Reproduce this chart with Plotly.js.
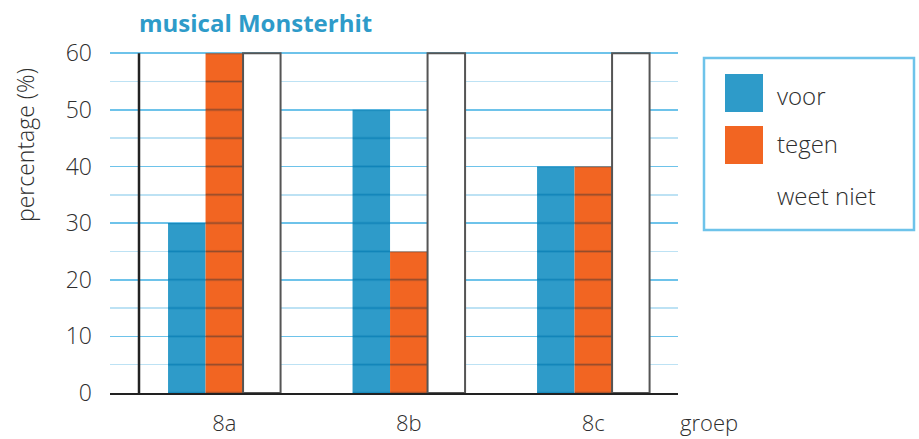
<!DOCTYPE html>
<html>
<head>
<meta charset="utf-8">
<script src="https://cdn.plot.ly/plotly-3.0.1.min.js"></script>
<style>
html,body{margin:0;padding:0;background:#fff;}
#chart{width:919px;height:439px;}
</style>
</head>
<body>
<div id="chart"></div>
<script>
// ---- data ----
const groups = ['8a', '8b', '8c'];
const seriesNames = ['voor', 'tegen', 'weet niet'];
const voor = [30, 50, 40];
const tegen = [60, 25, 40];
const weetNiet = [60, 60, 60];
const yTicks = [0, 10, 20, 30, 40, 50, 60];

// ---- styles ----
const BLUE = '#2e9bc9';
const ORANGE = '#f26522';
const GRID = '#6ec3ea';
const GRID_MINOR = '#bde2f4';
const TEXT = '#2e2e2e';
const FONT = '"Open Sans", Lato, sans-serif';

const W = 919, H = 439;
const L = 110, R = 678, T = 39, B = 393;
const px = x => (x - L) / (R - L);
const py = y => (B - y) / (B - T);

const XR = [-0.6195, 2.459];
const YR = [0, 62.5];
const K = (B - T) / (YR[1] - YR[0]); // px per unit
const BW = 0.2033; // bar width in category units

const seriesValues = [voor, tegen, weetNiet];
const fills = [BLUE, ORANGE, '#ffffff'];
const lines = [{width: 0}, {width: 0}, {color: '#555555', width: 2}];
const offsets = [-1.5 * BW, -0.5 * BW, 0.5 * BW];
// grid lines seen through the coloured bars (darker), none through the white bars
const patterns = [
  {shape: '-', size: 5 * K, solidity: 1.7 / (5 * K), fgcolor: '#0f83b8', bgcolor: BLUE, fgopacity: 1},
  {shape: '-', size: 5 * K, solidity: 1.7 / (5 * K), fgcolor: '#8e4a2c', bgcolor: ORANGE, fgopacity: 1},
  {shape: ''}
];

const traces = seriesValues.map((vals, i) => ({
  type: 'bar',
  name: seriesNames[i],
  x: groups,
  y: vals,
  width: BW, offset: offsets[i],
  marker: {color: fills[i], line: lines[i], pattern: patterns[i]},
  showlegend: false,
  hoverinfo: 'skip'
}));

// custom legend
const legShapes = [{
  type: 'rect', xref: 'paper', yref: 'paper',
  x0: px(704), x1: px(914), y0: py(58), y1: py(230),
  line: {color: GRID, width: 2.5}, fillcolor: 'rgba(0,0,0,0)'
}];
const legAnn = [];
const swTop = [74, 126, 178];
const txtY = [95, 143, 195];
seriesNames.forEach((n, i) => {
  legShapes.push({
    type: 'rect', xref: 'paper', yref: 'paper',
    x0: px(725), x1: px(763), y0: py(swTop[i]), y1: py(swTop[i] + 38),
    line: {width: 0}, fillcolor: fills[i]
  });
  legAnn.push({
    xref: 'paper', yref: 'paper', x: px(775), y: py(txtY[i]),
    xanchor: 'left', yanchor: 'middle', showarrow: false,
    text: n, font: {family: FONT, size: 24, color: TEXT, weight: 300}
  });
});

const layout = {
  width: W, height: H,
  margin: {l: L, r: W - R, t: T, b: H - B, pad: 0},
  paper_bgcolor: '#ffffff', plot_bgcolor: '#ffffff',
  barmode: 'overlay',
  title: {
    text: 'musical Monsterhit', xref: 'container', yref: 'container',
    x: 139 / W, xanchor: 'left', y: 1 - 24 / H, yanchor: 'middle',
    font: {family: FONT, size: 24, color: BLUE, weight: 700}
  },
  xaxis: {
    type: 'category', range: XR, categoryarray: groups,
    showline: true, linecolor: '#222222', linewidth: 2,
    showgrid: false, zeroline: false, ticks: '',
    ticklabelstandoff: 10,
    tickfont: {family: FONT, size: 22, color: TEXT, weight: 300}
  },
  yaxis: {
    range: YR, tickvals: yTicks, ticktext: yTicks.map(String),
    showline: false, zeroline: false, ticks: '',
    showgrid: true, gridcolor: GRID, gridwidth: 1.6,
    minor: {tickvals: [5, 15, 25, 35, 45, 55], showgrid: true, gridcolor: GRID_MINOR, gridwidth: 1.6},
    ticklabelstandoff: 17,
    tickfont: {family: FONT, size: 23, color: TEXT, weight: 300}
  },
  shapes: [{
    type: 'line', xref: 'paper', yref: 'y',
    x0: px(139), x1: px(139), y0: 0, y1: 60,
    line: {color: '#222222', width: 2.5}, layer: 'above'
  }].concat(legShapes),
  annotations: [{
    xref: 'paper', yref: 'paper', x: (25 - L) / (R - L), y: py(145),
    xanchor: 'center', yanchor: 'middle', textangle: -90, showarrow: false,
    text: 'percentage (%)', font: {family: FONT, size: 23, color: TEXT, weight: 300}
  }, {
    xref: 'paper', yref: 'paper', x: px(678), y: py(422),
    xanchor: 'left', yanchor: 'middle', showarrow: false,
    text: 'groep', font: {family: FONT, size: 22, color: TEXT, weight: 300}
  }].concat(legAnn)
};

Plotly.newPlot('chart', traces, layout, {staticPlot: true, displayModeBar: false});
</script>
</body>
</html>
